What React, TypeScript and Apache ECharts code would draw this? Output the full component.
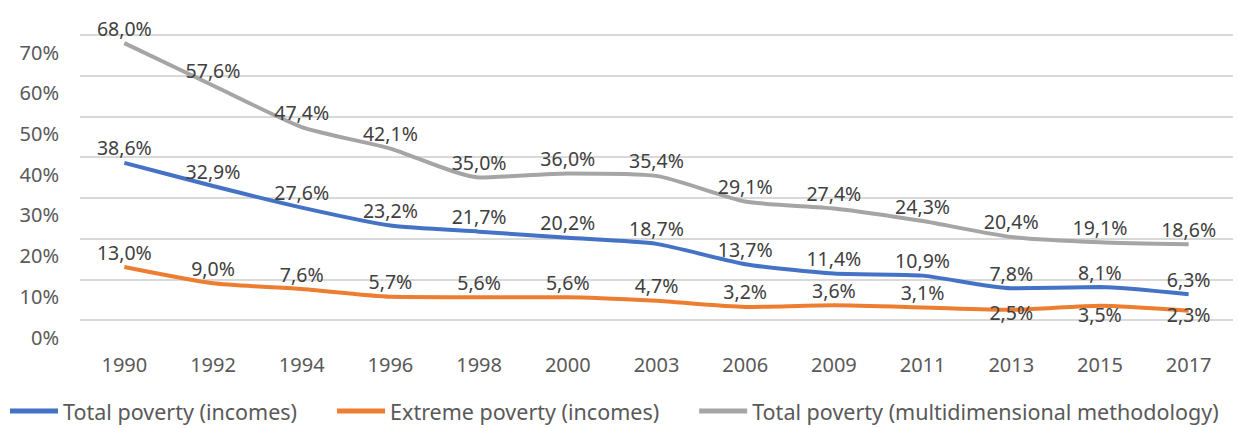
import React, { useEffect, useRef } from "react";
import * as echarts from "echarts";

const years = ["1990", "1992", "1994", "1996", "1998", "2000", "2003", "2006", "2009", "2011", "2013", "2015", "2017"];
const totalIncome = [38.6, 32.9, 27.6, 23.2, 21.7, 20.2, 18.7, 13.7, 11.4, 10.9, 7.8, 8.1, 6.3];
const extremeIncome = [13.0, 9.0, 7.6, 5.7, 5.6, 5.6, 4.7, 3.2, 3.6, 3.1, 2.5, 3.5, 2.3];
const multidim = [68.0, 57.6, 47.4, 42.1, 35.0, 36.0, 35.4, 29.1, 27.4, 24.3, 20.4, 19.1, 18.6];
const seriesNames = ["Total poverty (incomes)", "Extreme poverty (incomes)", "Total poverty (multidimensional methodology)"];
const colors = ["#4472C4", "#ED7D31", "#A5A5A5"];
// label placement tweaks (index -> vertical offset, label centred on point)
const extremeLabelOffsets: Record<number, number> = { 10: 3, 11: 9, 12: 4 };

const FONT = "Noto Sans";
const TEXT = "#595959";
const LABEL = "#404040";

const fmt = (v: number) => v.toFixed(1).replace(".", ",") + "%";

export default function App() {
  const ref = useRef<HTMLDivElement>(null);
  useEffect(() => {
    if (!ref.current) return;
    const chart = echarts.init(ref.current, undefined, { renderer: "svg" });
    const mk = (name: string, data: number[], color: string, adj?: Record<number, number>) => ({
      name,
      type: "line",
      smooth: 0.2,
      symbol: "circle",
      symbolSize: 0,
      showSymbol: true,
      lineStyle: { width: 4, color },
      itemStyle: { color },
      data: data.map((v, i) =>
        adj && adj[i] !== undefined
          ? { value: v, label: { position: "inside", offset: [0, adj[i]] } }
          : v
      ),
      label: {
        show: true,
        position: "top",
        distance: 5,
        color: LABEL,
        fontFamily: FONT,
        fontSize: 19.5,
        formatter: (p: any) => fmt(p.value),
      },
    });
    chart.setOption({
      animation: false,
      textStyle: { fontFamily: FONT },
      grid: { left: 80, right: 5, top: 35, bottom: 108, containLabel: false },
      xAxis: {
        type: "category",
        data: years,
        boundaryGap: true,
        axisLine: { show: false },
        axisTick: { show: false },
        axisLabel: { color: TEXT, fontFamily: FONT, fontSize: 20, margin: 34 },
      },
      yAxis: {
        type: "value",
        min: 0,
        max: 70,
        interval: 10,
        axisLine: { show: false },
        axisTick: { show: false },
        splitLine: { lineStyle: { color: "#D9D9D9", width: 2 } },
        axisLabel: {
          color: TEXT,
          fontFamily: FONT,
          fontSize: 20,
          margin: 21,
          verticalAlign: "top",
          lineHeight: 34,
          formatter: (v: number) => v + "%",
        },
      },
      legend: {
        left: 10,
        top: 400,
        width: 1228,
        padding: 0,
        itemGap: 40,
        itemWidth: 48,
        itemHeight: 5,
        icon: "rect",
        textStyle: { color: TEXT, fontFamily: FONT, fontSize: 21.5 },
        data: seriesNames,
      },
      series: [
        mk(seriesNames[0], totalIncome, colors[0]),
        mk(seriesNames[1], extremeIncome, colors[1], extremeLabelOffsets),
        mk(seriesNames[2], multidim, colors[2]),
      ],
    });
    return () => chart.dispose();
  }, []);
  return (
    <div
      ref={ref}
      style={{ position: "fixed", left: 0, top: 0, width: 1238, height: 428, background: "#fff" }}
    />
  );
}
